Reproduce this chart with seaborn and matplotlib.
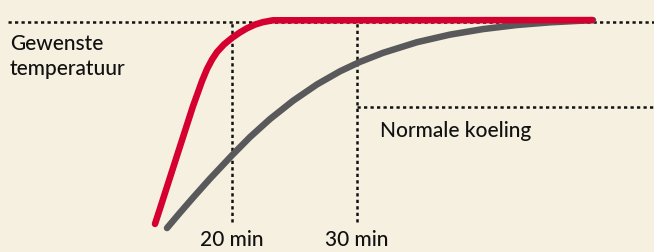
import matplotlib
matplotlib.use("Agg")
import matplotlib.pyplot as plt
import seaborn as sns

# snelle koeling (rood): tijd in minuten, koeling in % van gewenste temperatuur
fast_min = [13.84, 14.24, 15.6, 16.88, 17.6, 18.0, 18.4, 18.8, 19.36, 20.0,
            20.64, 21.2, 21.84, 22.48, 23.28, 48.8]
fast_pct = [0.5, 8.0, 33.8, 58.0, 70.2, 76.1, 80.7, 84.4, 88.1, 91.3,
            94.0, 96.0, 97.8, 99.0, 99.9, 100]

# normale koeling (grijs)
normal_min = [14.8, 15.84, 16.88, 18.24, 20.0, 21.44, 23.04, 24.88, 26.8, 28.64,
              30.24, 32.08, 34.8, 37.44, 40.08, 42.8, 45.44, 48.88]
normal_pct = [-1.5, 6.0, 13.3, 22.6, 34.0, 42.9, 51.7, 60.6, 68.6, 75.0,
              79.6, 84.0, 89.2, 92.9, 95.6, 97.6, 98.9, 100]

target_level = 99.2
normal_level = 57.6
marker_minutes = [20, 30]
marker_labels = ["20 min", "30 min"]

BG = "#f6f0e1"
RED = "#d5002f"
GREY = "#59595b"
INK = "#111111"

sns.set_style("white", {"axes.facecolor": BG, "figure.facecolor": BG})
plt.rcParams["font.family"] = ["Lato", "DejaVu Sans"]

fig, ax = plt.subplots(figsize=(6.54, 2.52), dpi=100)
ax.set_position([0, 0, 1, 1])
ax.set_xlim(1.44, 53.76)
ax.set_ylim(-13.2, 109.8)
ax.axis("off")

dots = dict(color=INK, linewidth=1.8, linestyle=(0, (1.3, 1.3)), zorder=1)
ax.axhline(target_level, xmin=0.012, **dots)
ax.plot([marker_minutes[1], 53.76], [normal_level, normal_level], **dots)
for m in marker_minutes:
    ax.plot([m, m], [1.5, target_level], **dots)

sns.lineplot(x=normal_min, y=normal_pct, color=GREY, linewidth=4.7,
             solid_capstyle="round", solid_joinstyle="round", ax=ax, zorder=3)
sns.lineplot(x=fast_min, y=fast_pct, color=RED, linewidth=4.7,
             solid_capstyle="round", solid_joinstyle="round", ax=ax, zorder=4)

fs = 15
txt = dict(fontsize=fs, color=INK, fontweight="medium", va="baseline")
ax.text(2.24, 85.4, "Gewenste", **txt)
ax.text(2.24, 73.2, "temperatuur", **txt)
ax.text(31.84, 42.9, "Normale koeling", **txt)
for m, lab in zip(marker_minutes, marker_labels):
    ax.text(m, -10.2, lab, ha="center", **txt)

fig.savefig("out.png", dpi=100, facecolor=BG)
